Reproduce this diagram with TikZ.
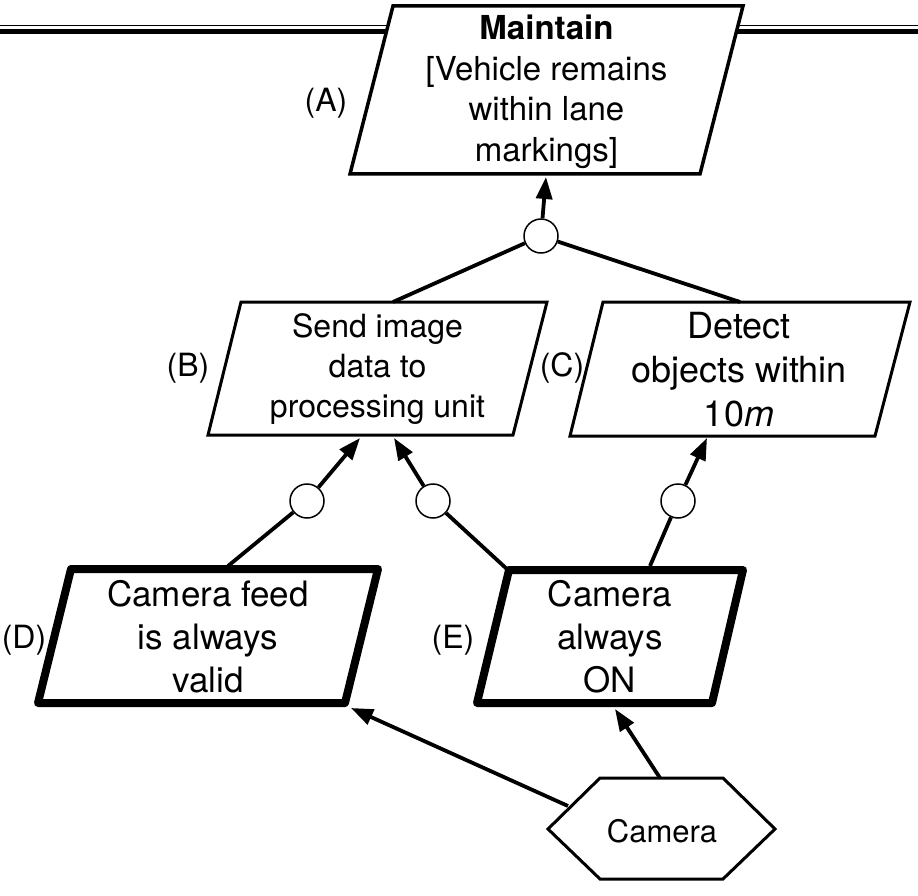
\documentclass[tikz,border=0pt]{standalone}
\usepackage{fontspec}
\setmainfont{TeX Gyre Heros}
\usetikzlibrary{arrows.meta}
\begin{document}
\begin{tikzpicture}[x=1pt,y=-1pt,
  conn/.style={line width=3.8pt},
  arr/.style={line width=3.8pt,-{Triangle[length=22pt,width=16pt]}},
  andcirc/.style={circle,draw,fill=white,line width=1.5pt,minimum size=34pt,inner sep=0pt},
  goalbox/.style={draw,fill=white,line width=3.5pt,line join=miter},
  subbox/.style={draw,fill=white,line width=3pt,line join=miter},
  leafbox/.style={draw,fill=white,line width=8pt,line join=round},
  agentbox/.style={draw,fill=white,line width=3pt,line join=miter},
  txt/.style={align=center,inner sep=0pt},
  lbl/.style={inner sep=0pt,font=\fontsize{32}{36}\selectfont}
]
\useasboundingbox (0,0) rectangle (918,896);

% double line behind the top goal
\draw[line width=1.5pt] (0,25.5) -- (918,25.5);
\draw[line width=5pt] (0,31.5) -- (918,31.5);

% goal A
\draw[goalbox] (393,6) -- (743,6) -- (700,174) -- (350,174) -- cycle;
\node[txt,font=\fontsize{33}{40.5}\selectfont] (tA) at (546.5,92)
  {\textbf{Maintain}\\{[}Vehicle remains\\within lane\\markings]};
\node[lbl] (lA) at (326,103) {(A)};

% goal B
\draw[subbox] (241,302) -- (547,302) -- (513,435) -- (208,435) -- cycle;
\node[txt,font=\fontsize{32}{40}\selectfont] (tB) at (377.5,369)
  {Send image\\data to\\processing unit};
\node[lbl] (lB) at (188,368) {(B)};

% goal C
\draw[subbox] (603,302) -- (910,302) -- (875,436) -- (570,436) -- cycle;
\node[txt,font=\fontsize{36}{44}\selectfont] (tC) at (739,370)
  {Detect\\objects within\\10\textit{m}};
\node[lbl] (lC) at (562,368) {(C)};

% leaf D
\draw[leafbox] (71,569) -- (378,569) -- (345,703) -- (38,703) -- cycle;
\node[txt,font=\fontsize{35}{43}\selectfont] (tD) at (208,637)
  {Camera feed\\is always\\valid};
\node[lbl] (lD) at (24,640) {(D)};

% leaf E
\draw[leafbox] (509,570) -- (743,570) -- (712,703) -- (477,703) -- cycle;
\node[txt,font=\fontsize{35}{43}\selectfont] (tE) at (610,637)
  {Camera\\always\\ON};
\node[lbl] (lE) at (453,640) {(E)};

% agent
\draw[agentbox] (548,829) -- (600,778) -- (723,778) -- (775,829) -- (723,879) -- (600,879) -- cycle;
\node[txt,font=\fontsize{31}{36}\selectfont] (tH) at (662,831) {Camera};

% connection points
\coordinate (aIn)  at (546,177);
\coordinate (bTop) at (393,302);
\coordinate (cTop) at (740,302);
\coordinate (bIn1) at (360,438);
\coordinate (bIn2) at (394,438);
\coordinate (cIn)  at (707,438);
\coordinate (dTop) at (228,566);
\coordinate (eTL)  at (508,570);
\coordinate (eTop) at (650,566);
\coordinate (eIn)  at (615,709);
\coordinate (dIn)  at (351,708);
\coordinate (hTop) at (660,778);
\coordinate (hLeft) at (568,806);

% refinement circles
\node[andcirc] (cA)  at (541,236) {};
\node[andcirc] (cB1) at (307,501) {};
\node[andcirc] (cB2) at (433,501) {};
\node[andcirc] (cC)  at (678,501) {};

% connectors
\draw[arr] (cA) -- (aIn);
\draw[conn] (cA) -- (bTop);
\draw[conn] (cA) -- (cTop);
\draw[conn] (dTop) -- (cB1);
\draw[arr] (cB1) -- (bIn1);
\draw[conn] (eTL) -- (cB2);
\draw[arr] (cB2) -- (bIn2);
\draw[conn] (eTop) -- (cC);
\draw[arr] (cC) -- (cIn);
\draw[arr] (hTop) -- (eIn);
\draw[arr] (hLeft) -- (dIn);
\end{tikzpicture}
\end{document}
